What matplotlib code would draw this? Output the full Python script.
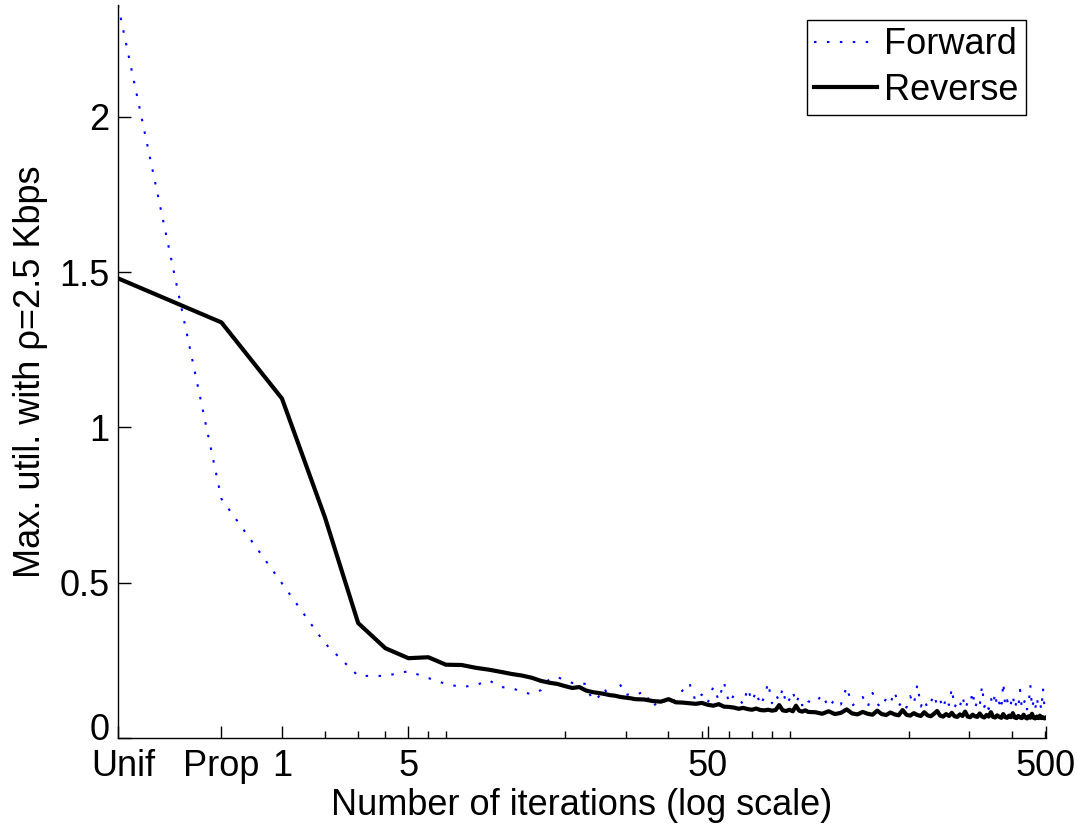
import numpy as np
import matplotlib
matplotlib.use('Agg')
import matplotlib.pyplot as plt
import matplotlib.transforms as mtransforms

plt.rcParams['font.family'] = ['Liberation Sans', 'DejaVu Sans']

# iteration numbers that were logged (dense early, sparser later)
iterations = np.concatenate([np.arange(1, 31), np.arange(32, 101, 2), np.arange(105, 501, 5)])

# starting points before the first iteration
start_labels = ['Unif', 'Prop']
fwd_start = [2.36, 0.77]
rev_start = [1.48, 1.338]

fwd_iter = [
    0.498, 0.305, 0.200, 0.200, 0.215, 0.193, 0.174, 0.164, 0.170, 0.186,
    0.164, 0.161, 0.148, 0.141, 0.154, 0.190, 0.196, 0.186, 0.177, 0.180,
    0.173, 0.122, 0.132, 0.160, 0.128, 0.145, 0.170, 0.138, 0.142, 0.138,
    # 32..100 step 2
    0.150, 0.100, 0.128, 0.106, 0.125, 0.154, 0.177, 0.118, 0.140, 0.112,
    0.165, 0.122, 0.180, 0.112, 0.138, 0.128, 0.108, 0.160, 0.118, 0.150,
    0.105, 0.132, 0.178, 0.112, 0.140, 0.120, 0.160, 0.108, 0.125, 0.150,
    0.112, 0.135, 0.105, 0.128, 0.118,
    # 105..500 step 5
    0.112, 0.140, 0.098, 0.125, 0.108, 0.165, 0.104, 0.118, 0.132, 0.100,
    0.145, 0.110, 0.097, 0.128, 0.112, 0.150, 0.102, 0.120, 0.098, 0.135,
    0.108, 0.172, 0.101, 0.125, 0.096, 0.115, 0.140, 0.104, 0.122, 0.095,
    0.130, 0.106, 0.160, 0.098, 0.118, 0.102, 0.135, 0.094, 0.115, 0.108,
    0.150, 0.097, 0.120, 0.104, 0.168, 0.100, 0.118, 0.093, 0.128, 0.106,
    0.145, 0.098, 0.114, 0.092, 0.178, 0.102, 0.122, 0.096, 0.112, 0.138,
    0.095, 0.116, 0.100, 0.155, 0.094, 0.110, 0.125, 0.092, 0.108, 0.170,
    0.097, 0.118, 0.093, 0.130, 0.100, 0.112, 0.092, 0.160, 0.098, 0.105,
]

rev_iter = [
    1.093, 0.711, 0.370, 0.289, 0.257, 0.260, 0.236, 0.235, 0.226, 0.220,
    0.213, 0.206, 0.201, 0.194, 0.184, 0.178, 0.174, 0.167, 0.161, 0.164,
    0.153, 0.148, 0.145, 0.142, 0.138, 0.136, 0.132, 0.130, 0.128, 0.125,
    # 32..100 step 2
    0.124, 0.119, 0.117, 0.125, 0.115, 0.114, 0.112, 0.110, 0.113, 0.107,
    0.104, 0.109, 0.101, 0.100, 0.098, 0.094, 0.097, 0.093, 0.091, 0.095,
    0.090, 0.089, 0.091, 0.088, 0.090, 0.106, 0.089, 0.087, 0.091, 0.086,
    0.104, 0.088, 0.085, 0.089, 0.084,
    # 105..500 step 5
    0.083, 0.078, 0.086, 0.077, 0.081, 0.092, 0.079, 0.076, 0.084, 0.078,
    0.075, 0.088, 0.077, 0.074, 0.082, 0.076, 0.073, 0.090, 0.075, 0.072,
    0.080, 0.074, 0.071, 0.083, 0.073, 0.070, 0.078, 0.087, 0.072, 0.069,
    0.077, 0.071, 0.081, 0.070, 0.068, 0.076, 0.071, 0.085, 0.069, 0.067,
    0.075, 0.070, 0.068, 0.079, 0.069, 0.066, 0.074, 0.069, 0.083, 0.068,
    0.066, 0.073, 0.068, 0.065, 0.077, 0.067, 0.065, 0.072, 0.067, 0.080,
    0.066, 0.064, 0.071, 0.066, 0.064, 0.075, 0.066, 0.063, 0.070, 0.065,
    0.078, 0.065, 0.063, 0.069, 0.064, 0.072, 0.064, 0.067, 0.063, 0.066,
]

tick_iters = [1, 5, 50, 500]

# Unif sits at 1, Prop at 2, iteration n at n + 2 on the log axis
x = np.concatenate([[1, 2], iterations + 2])
fwd = np.concatenate([fwd_start, fwd_iter])
rev = np.concatenate([rev_start, rev_iter])

fig = plt.figure(figsize=(10.78, 8.26), dpi=100)
ax = fig.add_axes([118 / 1078, 1 - 738 / 826, 928 / 1078, 733 / 826])

ax.plot(x, fwd, color='#0000ff', lw=1.5, linestyle=(0, (1.2, 5)), label='Forward')
ax.plot(x, rev, color='black', lw=3, label='Reverse')

ax.set_xscale('log')
ax.set_xlim(1, 502)
ax.set_ylim(0, 2.36)

ax.set_xticks([1, 2] + [t + 2 for t in tick_iters])
ax.set_xticklabels(start_labels + [str(t) for t in tick_iters])
ax.set_yticks([0, 0.5, 1, 1.5, 2])
ax.set_yticklabels(['0', '0.5', '1', '1.5', '2'])

ax.tick_params(axis='both', which='major', direction='in', length=9, width=1,
               labelsize=26, pad=6)
ax.tick_params(axis='x', which='minor', direction='in', length=5, width=1)
ax.tick_params(axis='x', which='major', pad=8)

# keep the "0" label and "Unif" from running into each other at the corner
zero_lbl = ax.get_yticklabels()[0]
zero_lbl.set_transform(zero_lbl.get_transform() +
                       mtransforms.ScaledTranslation(0, 8 / 72, fig.dpi_scale_trans))
unif_lbl = ax.get_xticklabels()[0]
unif_lbl.set_transform(unif_lbl.get_transform() +
                       mtransforms.ScaledTranslation(4 / 72, 0, fig.dpi_scale_trans))

for side in ['top', 'right']:
    ax.spines[side].set_visible(False)
for side in ['left', 'bottom']:
    ax.spines[side].set_linewidth(1)

ax.set_xlabel('Number of iterations (log scale)', fontsize=26, labelpad=3)
ax.set_ylabel('Max. util. with \u03c1=2.5 Kbps', fontsize=26, labelpad=8)

leg = ax.legend(loc='upper right', bbox_to_anchor=(0.9784, 0.9795), borderaxespad=0,
                fontsize=26, fancybox=False, framealpha=1, edgecolor='black',
                handlelength=1.75, handletextpad=0.2, labelspacing=0.3,
                borderpad=0.2)
leg.get_frame().set_linewidth(1)

fig.savefig('out.png', dpi=100)
